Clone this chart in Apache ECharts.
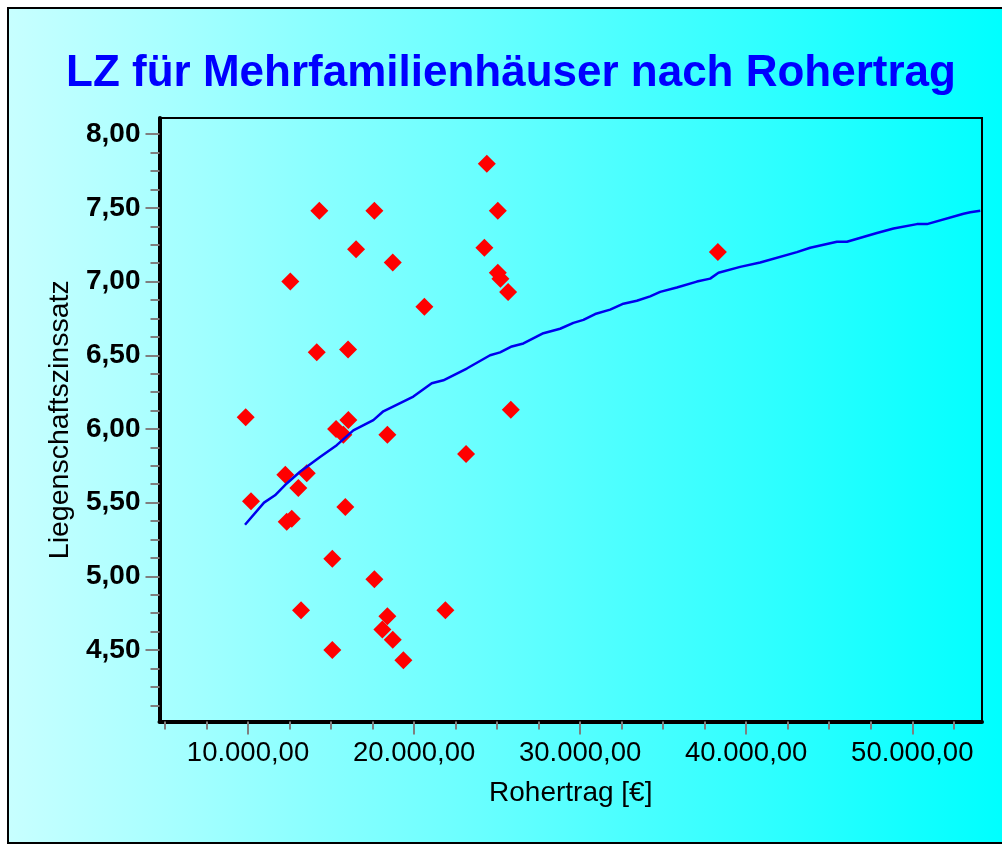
<!DOCTYPE html>
<html>
<head>
<meta charset="utf-8">
<script src="https://cdn.jsdelivr.net/npm/echarts@6/dist/echarts.min.js"></script>
<style>
html,body{margin:0;padding:0;background:#fff;}
#chart{width:1002px;height:844px;}
</style>
</head>
<body>
<div id="chart"></div>
<script>
// ---- data ----
var titleText = 'LZ für Mehrfamilienhäuser nach Rohertrag';
var xName = 'Rohertrag [€]';
var yName = 'Liegenschaftszinssatz';

var rohertrag = [9861, 10181, 12247, 12548, 12331, 12633, 13030, 13536, 13193, 14138,
  14295, 15078, 15078, 15301, 15741, 15861, 16024, 16042, 16506, 17608,
  17608, 18090, 18391, 18391, 18717, 18717, 19355, 20620, 21886, 23132,
  24235, 24380, 25042, 25042, 25199, 25662, 25825, 38295];
var lz = [6.08, 5.51, 5.69, 7.00, 5.37, 5.39, 5.60, 5.70, 4.77, 6.52,
  7.48, 4.50, 5.12, 6.00, 5.96, 5.47, 6.54, 6.06, 7.22, 7.48,
  4.98, 4.64, 5.96, 4.73, 7.13, 4.57, 4.43, 6.83, 4.77, 5.83,
  7.23, 7.80, 7.48, 7.06, 7.02, 6.93, 6.13, 7.20];

var trendX = [9819, 10964, 11626, 12331, 13132, 14337, 15343, 16343, 17548, 18150,
  19958, 21066, 21765, 23175, 24578, 25180, 25885, 26584, 27789, 28795,
  29596, 30198, 30903, 31807, 32608, 33415, 34216, 34819, 35824, 37029,
  37831, 38331, 39638, 40843, 43054, 43855, 45463, 46066, 47873, 48873,
  50282, 50885, 53090, 53493, 54096];
var trendY = [5.35, 5.50, 5.55, 5.63, 5.71, 5.81, 5.89, 5.99, 6.06, 6.12,
  6.22, 6.31, 6.33, 6.41, 6.50, 6.52, 6.56, 6.58, 6.65, 6.68,
  6.72, 6.74, 6.78, 6.81, 6.85, 6.87, 6.90, 6.93, 6.96, 7.00,
  7.02, 7.06, 7.10, 7.13, 7.20, 7.23, 7.27, 7.27, 7.33, 7.36,
  7.39, 7.39, 7.46, 7.47, 7.48];

var xMajorTicks = [10000, 20000, 30000, 40000, 50000];
var xMinorTicks = [5000, 7500, 12500, 15000, 17500, 22500, 25000, 27500, 32500, 35000,
  37500, 42500, 45000, 47500, 52500];
var yMajorTicks = [4.5, 5.0, 5.5, 6.0, 6.5, 7.0, 7.5, 8.0];
var yMinorTicks = [4.125, 4.25, 4.375, 4.625, 4.75, 4.875, 5.125, 5.25, 5.375, 5.625,
  5.75, 5.875, 6.125, 6.25, 6.375, 6.625, 6.75, 6.875, 7.125, 7.25, 7.375, 7.625, 7.75, 7.875];

var xRange = [4670, 54200];
var yRange = [4.015, 8.11];

// ---- helpers ----
function fmtDE(v) {
  var s = v.toFixed(2);
  var parts = s.split('.');
  var intPart = parts[0].replace(/\B(?=(\d{3})+(?!\d))/g, '.');
  return intPart + ',' + parts[1];
}

var points = rohertrag.map(function (x, i) { return [x, lz[i]]; });
var trend = trendX.map(function (x, i) { return [x, trendY[i]]; });

var chart = echarts.init(document.getElementById('chart'), null, {renderer: 'canvas'});
var FONT = '"Liberation Sans", Arial, sans-serif';
var tickGray = '#7f7f7f';

var option = {
  animation: false,
  graphic: [
    {
      type: 'rect', z: -100, silent: true,
      shape: {x: 8, y: 8, width: 1100, height: 835},
      style: {
        fill: {type: 'linear', x: 0, y: 0, x2: 1, y2: 0,
          colorStops: [{offset: 0, color: '#c8ffff'}, {offset: 0.9, color: '#00ffff'}, {offset: 1, color: '#00ffff'}]},
        stroke: '#000', lineWidth: 2
      }
    },
    {
      type: 'text', z: 10, silent: true,
      x: 511, y: 74,
      style: {
        text: titleText, align: 'center', verticalAlign: 'middle',
        fill: '#0000ff', font: 'bold 44px ' + FONT
      }
    }
  ],
  grid: {
    left: 159.5, top: 118, right: 20, bottom: 122.5,
    show: true, borderColor: '#000', borderWidth: 2, backgroundColor: 'transparent',
    containLabel: false
  },
  xAxis: [
    {
      type: 'value', min: xRange[0], max: xRange[1], position: 'bottom',
      name: xName, nameLocation: 'middle', nameGap: 58,
      nameTextStyle: {fontFamily: FONT, fontSize: 28, color: '#000'},
      axisLine: {show: true, onZero: false, lineStyle: {color: '#000', width: 4}},
      axisTick: {show: true, customValues: xMajorTicks, length: 13, lineStyle: {color: tickGray, width: 2}},
      axisLabel: {show: true, customValues: xMajorTicks, margin: 18, fontFamily: FONT, fontSize: 27.5, color: '#000',
        formatter: function (v) { return fmtDE(v); }},
      splitLine: {show: false}
    },
    {
      type: 'value', min: xRange[0], max: xRange[1], position: 'bottom',
      axisLine: {show: false, onZero: false},
      axisTick: {show: true, customValues: xMinorTicks, length: 8, lineStyle: {color: tickGray, width: 2}},
      axisLabel: {show: false},
      splitLine: {show: false}
    }
  ],
  yAxis: [
    {
      type: 'value', min: yRange[0], max: yRange[1], position: 'left',
      name: yName, nameLocation: 'middle', nameGap: 83, nameRotate: 90,
      nameTextStyle: {fontFamily: FONT, fontSize: 28.5, color: '#000'},
      axisLine: {show: true, onZero: false, lineStyle: {color: '#000', width: 4}},
      axisTick: {show: true, customValues: yMajorTicks, length: 14, lineStyle: {color: tickGray, width: 2}},
      axisLabel: {show: true, customValues: yMajorTicks, margin: 19, fontFamily: FONT, fontSize: 28,
        fontWeight: 'bold', color: '#000',
        formatter: function (v) { return fmtDE(v); }},
      splitLine: {show: false}
    },
    {
      type: 'value', min: yRange[0], max: yRange[1], position: 'left',
      axisLine: {show: false, onZero: false},
      axisTick: {show: true, customValues: yMinorTicks, length: 9, lineStyle: {color: tickGray, width: 2}},
      axisLabel: {show: false},
      splitLine: {show: false}
    }
  ],
  series: [
    {
      type: 'scatter', xAxisIndex: 0, yAxisIndex: 0,
      data: points, symbol: 'diamond', symbolSize: 18,
      itemStyle: {color: '#ff0000', opacity: 1}, z: 2
    },
    {
      type: 'line', xAxisIndex: 0, yAxisIndex: 0,
      data: trend, showSymbol: false, symbol: 'none', smooth: false,
      lineStyle: {color: '#0000ee', width: 2.5}, z: 3
    }
  ]
};
chart.setOption(option);
</script>
</body>
</html>
